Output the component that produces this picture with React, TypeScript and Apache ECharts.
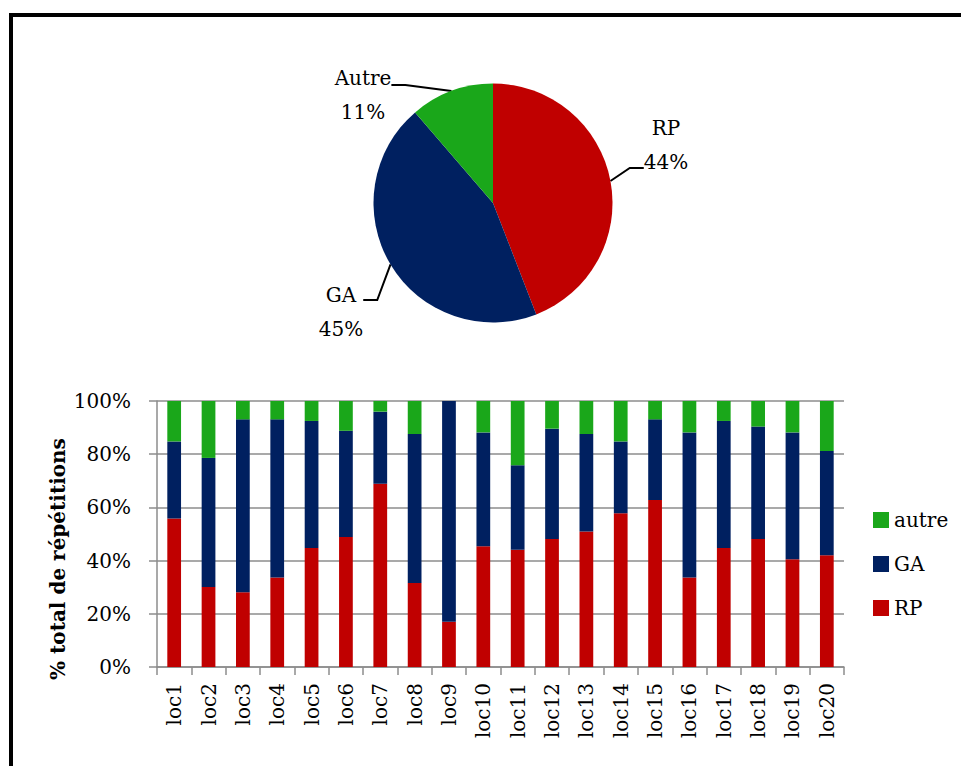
import React, { useEffect, useRef } from "react";
import * as echarts from "echarts";

const categories = ["loc1","loc2","loc3","loc4","loc5","loc6","loc7","loc8","loc9","loc10","loc11","loc12","loc13","loc14","loc15","loc16","loc17","loc18","loc19","loc20"];
const rpValues = [55.8, 30.1, 28.1, 33.6, 44.7, 48.9, 68.9, 31.6, 17.0, 45.4, 44.1, 48.1, 50.9, 57.8, 62.8, 33.6, 44.7, 48.1, 40.5, 42.0];
const gaValues = [29.0, 48.5, 65.0, 59.5, 47.8, 39.9, 27.1, 56.0, 83.0, 42.8, 31.7, 41.5, 36.7, 27.0, 30.3, 54.6, 47.8, 42.3, 47.7, 39.2];
const autreValues = [15.2, 21.4, 6.9, 6.9, 7.5, 11.2, 4.0, 12.4, 0.0, 11.8, 24.2, 10.4, 12.4, 15.2, 6.9, 11.8, 7.5, 9.6, 11.8, 18.8];
const yTicks = [0, 20, 40, 60, 80, 100];

const pieNames = ["RP", "GA", "Autre"];
const pieValues = [44.1, 44.6, 11.3];

const RED = "#C00000";
const NAVY = "#002060";
const GREEN = "#1AA71A";
const FONT = "DejaVu Serif";

// pie label layout: box centre; spacer line height and whether it goes above (true) or below
const pieLabelPos: [number, number][] = [
  [666, 168],
  [341, 300],
  [363, 85],
];
const pieSpacer: [number, boolean][] = [
  [46, false],
  [24, true],
  [20, true],
];

export default function App() {
  const ref = useRef<HTMLDivElement>(null);
  useEffect(() => {
    if (!ref.current) return;
    const chart = echarts.init(ref.current, null, { renderer: "svg" });
    const axisGray = "#8c8c8c";
    chart.setOption({
      animation: false,
      backgroundColor: "#ffffff",
      textStyle: { fontFamily: FONT, color: "#000" },
      graphic: [
        { type: "rect", shape: { x: 9, y: 13, width: 952, height: 4 }, style: { fill: "#000" } },
        { type: "rect", shape: { x: 9, y: 13, width: 4, height: 753 }, style: { fill: "#000" } },
        {
          type: "text",
          x: 58,
          y: 559,
          rotation: Math.PI / 2,
          style: {
            text: "% total de répétitions",
            font: "bold 20px 'DejaVu Serif'",
            fill: "#000",
            textAlign: "center",
            textVerticalAlign: "middle",
          },
        },
      ],
      legend: {
        orient: "vertical",
        left: 868,
        top: 505,
        itemWidth: 16,
        itemHeight: 16,
        itemGap: 24,
        data: ["autre", "GA", "RP"],
        textStyle: { fontFamily: FONT, fontSize: 20, color: "#000" },
        icon: "rect",
      },
      grid: { left: 157, right: 117, top: 401, bottom: 99 },
      xAxis: {
        type: "category",
        data: categories,
        axisLine: { lineStyle: { color: axisGray, width: 1.5 } },
        axisTick: { show: true, length: 8, lineStyle: { color: axisGray, width: 1.5 } },
        axisLabel: { rotate: 90, margin: 16, fontFamily: FONT, fontSize: 20, color: "#000" },
      },
      yAxis: {
        type: "value",
        min: 0,
        max: 100,
        interval: 20,
        axisLine: { show: true, lineStyle: { color: axisGray, width: 1.5 } },
        axisTick: { show: true, length: 8, lineStyle: { color: axisGray, width: 1.5 } },
        splitLine: { show: true, lineStyle: { color: axisGray, width: 1.5 } },
        axisLabel: {
          margin: 26,
          fontFamily: FONT,
          fontSize: 20,
          color: "#000",
          formatter: (v: number) => (yTicks.includes(v) ? v + "%" : ""),
        },
      },
      series: [
        { name: "RP", type: "bar", stack: "s", data: rpValues, barWidth: "40%", itemStyle: { color: RED } },
        { name: "GA", type: "bar", stack: "s", data: gaValues, barWidth: "40%", itemStyle: { color: NAVY } },
        { name: "autre", type: "bar", stack: "s", data: autreValues, barWidth: "40%", itemStyle: { color: GREEN } },
        {
          name: "pie",
          type: "pie",
          center: [493, 203],
          radius: 119.5,
          startAngle: 90,
          clockwise: true,
          data: pieNames.map((n, i) => ({
            name: n,
            value: pieValues[i],
            itemStyle: { color: [RED, NAVY, GREEN][i] },
            label: {
              rich: {
                t: { fontFamily: FONT, fontSize: 20, lineHeight: 34, color: "#000", align: "center" },
                s: { fontSize: 1, lineHeight: pieSpacer[i][0], align: "center" },
              },
            },
          })),
          label: {
            show: true,
            position: "outside",
            fontFamily: FONT,
            fontSize: 20,
            lineHeight: 34,
            color: "#000",
            align: "center",
            formatter: (p: any) => {
              const [, above] = pieSpacer[p.dataIndex];
              const body = "{t|" + p.name + "}\n{t|" + Math.round(p.percent) + "%}";
              return above ? "{s| }\n" + body : body + "\n{s| }";
            },
          },
          labelLayout: (p: any) => {
            const pos = pieLabelPos[p.dataIndex];
            return { x: pos[0], y: pos[1], align: "center", verticalAlign: "middle" };
          },
          labelLine: { show: true, length: 14, length2: 14, lineStyle: { color: "#000", width: 2 } },
        },
      ],
    });
    return () => chart.dispose();
  }, []);
  return (
    <div
      ref={ref}
      style={{ position: "absolute", left: 0, top: 0, width: 961, height: 766 }}
    />
  );
}
